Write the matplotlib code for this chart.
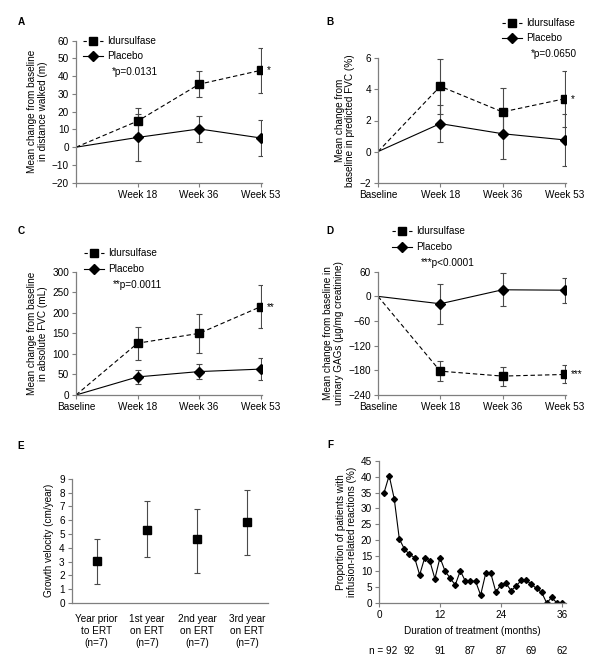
import numpy as np
import matplotlib
matplotlib.use("Agg")
import matplotlib.pyplot as plt
from matplotlib.lines import Line2D

plt.rcParams['font.family'] = ['Liberation Sans', 'DejaVu Sans']
plt.rcParams['font.size'] = 7.2

weeks = ['Baseline', 'Week 18', 'Week 36', 'Week 53']

# A - distance walked
a_idur = [0, 14.7, 35.5, 43.3]
a_idur_err = [0, 7.3, 7.2, 12.7]
a_plac = [0, 5.5, 10.3, 5.2]
a_plac_err = [0, 13.0, 7.1, 9.9]

# B - predicted FVC
b_idur = [0, 4.2, 2.55, 3.4]
b_idur_err = [0, 1.75, 1.55, 1.8]
b_plac = [0, 1.8, 1.15, 0.75]
b_plac_err = [0, 1.2, 1.6, 1.7]

# C - absolute FVC
c_idur = [0, 126, 150, 215]
c_idur_err = [0, 40, 47, 52]
c_plac = [0, 44, 57, 63]
c_plac_err = [0, 18, 18, 26]

# D - urinary GAGs
d_idur = [0, -182, -194, -190]
d_idur_err = [0, 25, 23, 22]
d_plac = [0, -18, 16, 15]
d_plac_err = [0, 49, 40, 30]

# E - growth velocity
e_cats = ['Year prior\nto ERT\n(n=7)', '1st year\non ERT\n(n=7)',
          '2nd year\non ERT\n(n=7)', '3rd year\non ERT\n(n=7)']
e_vals = [3.05, 5.3, 4.6, 5.9]
e_lo = [1.65, 2.0, 2.45, 2.45]
e_hi = [1.6, 2.05, 2.2, 2.3]

# F - infusion-related reactions
f_months = list(range(1, 37))
f_vals = [35.0, 40.4, 33.0, 20.3, 17.1, 15.4, 14.4, 8.9, 14.4, 13.3,
          7.7, 14.4, 10.1, 7.9, 5.7, 10.2, 6.9, 6.9, 6.9, 2.5,
          9.4, 9.4, 3.5, 5.8, 6.2, 3.9, 5.4, 7.2, 7.2, 5.9,
          4.6, 3.4, 0.0, 1.8, 0.0, 0.0]
f_n_pos = [0, 6, 12, 18, 24, 30, 36]
f_n = ['92', '92', '91', '87', '87', '69', '62']

W, H = 600, 664
fig = plt.figure(figsize=(6, 6.64), dpi=100)

SPINE = '#7f7f7f'
ERR = '#4a4a4a'


def ax_px(l, t, r, b):
    return fig.add_axes([l / W, 1 - b / H, (r - l) / W, (b - t) / H])


def style(ax):
    for s in ['top', 'right']:
        ax.spines[s].set_visible(False)
    for s in ['left', 'bottom']:
        ax.spines[s].set_color(SPINE)
        ax.spines[s].set_linewidth(0.9)
    ax.tick_params(colors=SPINE, labelcolor='black', length=3, width=0.8,
                   labelsize=7.2, pad=2)


def trial(ax, idur, idur_err, plac, plac_err, ylim, yticks, labels):
    x = np.arange(4)
    ax.plot(x, idur, color='black', ls=(0, (4, 2.5)), lw=0.8, zorder=2)
    ax.plot(x, plac, color='black', ls='-', lw=0.8, zorder=2)
    ax.errorbar(x[1:], idur[1:], yerr=idur_err[1:], fmt='none', ecolor=ERR,
                elinewidth=0.8, capsize=2.5, capthick=0.8, zorder=1)
    ax.errorbar(x[1:], plac[1:], yerr=plac_err[1:], fmt='none', ecolor=ERR,
                elinewidth=0.8, capsize=2.5, capthick=0.8, zorder=1)
    ax.plot(x[1:], idur[1:], 's', color='black', ms=6.3, ls='none', zorder=3)
    ax.plot(x[1:], plac[1:], 'D', color='black', ms=5.0, ls='none', zorder=3)
    ax.set_xlim(0, 3.02)
    ax.set_ylim(*ylim)
    ax.set_yticks(yticks)
    ax.set_xticks(x)
    ax.set_xticklabels(labels)
    style(ax)


def legend(xl, yi, yp, ptxt):
    for y, ls, mk in [(yi, (0, (3, 2)), 's'), (yp, '-', 'D')]:
        fig.add_artist(Line2D([xl / W, (xl + 20) / W], [1 - y / H, 1 - y / H],
                              color='black', lw=0.8, ls=ls))
        fig.add_artist(Line2D([(xl + 10) / W], [1 - y / H], marker=mk,
                              color='black', ms=5.5 if mk == 's' else 4.6))
    fig.text((xl + 24) / W, 1 - yi / H, 'Idursulfase', va='center')
    fig.text((xl + 24) / W, 1 - yp / H, 'Placebo', va='center')
    fig.text((xl + 29) / W, 1 - (2 * yp - yi + 0.5) / H, ptxt, va='center')


# Panel A
axA = ax_px(76, 40.7, 262, 182.7)
trial(axA, a_idur, a_idur_err, a_plac, a_plac_err, (-20, 60),
      range(-20, 61, 10), [''] + weeks[1:])
axA.set_ylabel('Mean change from baseline\nin distance walked (m)',
               labelpad=3, linespacing=1.1)
axA.text(3.1, a_idur[3], '*', va='center')
legend(83, 40.7, 56, '*p=0.0131')

# Panel B
axB = ax_px(378, 58.3, 566, 182.7)
trial(axB, b_idur, b_idur_err, b_plac, b_plac_err, (-2, 6),
      range(-2, 7, 2), weeks)
axB.set_ylabel('Mean change from\nbaseline in predicted FVC (%)',
               labelpad=3, linespacing=1.1)
axB.text(3.1, b_idur[3], '*', va='center')
legend(502, 22.7, 38, '*p=0.0650')

# Panel C
axC = ax_px(76, 271.7, 262, 395)
trial(axC, c_idur, c_idur_err, c_plac, c_plac_err, (0, 300),
      range(0, 301, 50), weeks)
axC.set_ylabel('Mean change from baseline\nin absolute FVC (mL)',
               labelpad=3, linespacing=1.1)
axC.text(3.1, c_idur[3], '**', va='center')
legend(84, 253, 269, '**p=0.0011')

# Panel D
axD = ax_px(378, 271.7, 566, 395)
trial(axD, d_idur, d_idur_err, d_plac, d_plac_err, (-240, 60),
      range(-240, 61, 60), weeks)
axD.set_ylabel('Mean change from baseline in\nurinary GAGs (µg/mg creatinine)',
               labelpad=3, linespacing=1.1)
axD.text(3.1, d_idur[3], '***', va='center')
legend(392, 231, 247, '***p<0.0001')

# Panel E
axE = ax_px(71.7, 478.7, 268, 603)
xe = np.arange(4)
axE.errorbar(xe, e_vals, yerr=[e_lo, e_hi], fmt='s', color='black', ms=6.3,
             ecolor=ERR, elinewidth=0.8, capsize=2.5, capthick=0.8)
axE.set_xlim(-0.5, 3.42)
axE.set_ylim(0, 9)
axE.set_yticks(range(0, 10))
axE.set_xticks(xe)
axE.set_xticklabels(e_cats, linespacing=1.25)
style(axE)
axE.tick_params(axis='x', length=0, pad=8)
axE.set_ylabel('Growth velocity (cm/year)', labelpad=4)

# Panel F
axF = ax_px(379, 461, 566, 603)
axF.plot(f_months, f_vals, '-D', color='black', lw=0.8, ms=3.0)
axF.set_xlim(0, 36.8)
axF.set_ylim(0, 45)
axF.set_yticks(range(0, 46, 5))
axF.set_xticks([0, 12, 24, 36])
style(axF)
axF.set_ylabel('Proportion of patients with\ninfusion-related reactions (%)',
               labelpad=3, linespacing=1.1)
axF.set_xlabel('Duration of treatment (months)', labelpad=4)
for i, (p, n) in enumerate(zip(f_n_pos, f_n)):
    lab = 'n = ' + n if i == 0 else n
    ha = 'right' if i == 0 else 'center'
    xoff = 3.5 if i == 0 else 0
    axF.text(p + xoff, -0.34, lab, transform=axF.get_xaxis_transform(),
             ha=ha, va='center')

# panel letters
for lab, x, y in [('A', 21, 22), ('B', 330, 22), ('C', 21, 231),
                  ('D', 330, 231), ('E', 21, 446), ('F', 330, 445)]:
    fig.text(x / W, 1 - y / H, lab, fontweight='bold',
             ha='center', va='center')

fig.savefig('out.png', dpi=100)
